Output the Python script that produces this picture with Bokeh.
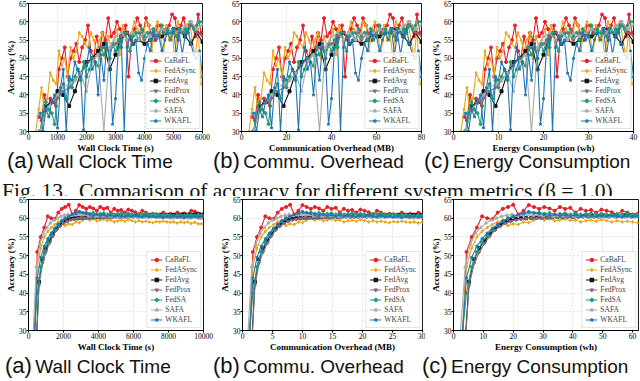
import numpy as np
from bokeh.plotting import figure
from bokeh.layouts import column, row
from bokeh.models import Div, Legend, LegendItem, FixedTicker, Range1d
from bokeh.embed import file_html
from bokeh.resources import INLINE

methods = ["CaBaFL", "FedASync", "FedAvg", "FedProx", "FedSA", "SAFA", "WKAFL"]
colors = ["#ee1c25", "#e8a817", "#111111", "#86668a", "#1f9e78", "#ababab", "#1f77b4"]
markers = ["circle", "diamond", "square", "inverted_triangle", "plus", "triangle", "star"]

# ---- top row: accuracy per round, wall-clock start / step (s)
cabafl_top = [34, 33, 40, 36, 39, 38, 37, 47, 50, 53, 45, 50, 52, 54, 49, 53, 55, 59, 52, 50, 56, 52, 57, 55, 61, 56, 57, 60,
              58, 56, 59, 45, 55, 58, 61, 59, 57, 61, 59, 56, 55, 59, 59, 57, 58, 59, 62, 61, 55, 59, 61, 57, 59, 59, 56, 62, 57]
fedasync_top = [30, 36, 42, 35, 39, 46, 44, 43, 52, 48, 50, 45, 53, 50, 52, 57, 56, 54, 53, 57, 55, 52, 55, 57, 50, 56, 53, 55, 58,
                51, 59, 56, 55, 57, 60, 58, 57, 55, 60, 59, 52, 58, 60, 56, 51, 59, 55, 57, 50, 60, 58, 56, 59, 60, 55, 50, 58, 43]
fedavg_top = [30, 37, 38, 41, 40, 37, 41, 46, 49, 50, 52, 54, 47, 51, 56, 57, 54, 55, 54, 55, 57, 56, 57, 58, 58, 56, 54, 57, 54.5]
fedprox_top = [30, 36, 38, 39, 41, 42, 44, 46, 48, 50, 51, 53, 52, 54, 56, 57, 56, 57, 55, 57, 56, 58, 57, 57, 58, 57, 60, 57, 56]
fedsa_top = [30, 35, 38, 36, 35, 32, 40, 41, 43, 39, 44, 42, 45, 47, 44, 49, 45, 47, 50, 49, 48, 53, 51, 53, 50, 54, 52, 55, 53,
             57, 55, 52, 56, 57, 55, 58, 56, 57, 55, 58, 57, 56, 59, 57, 58, 57, 58, 56, 58, 57, 58, 57, 59, 58, 59, 60, 60]
safa_top = [30, 36, 38, 40, 42, 43, 44, 46, 41, 49, 51, 30, 53, 56, 57, 55, 57, 55, 57, 56, 57, 58, 57, 58, 57, 59, 60, 58, 59]
wkafl_top = [35, 30, 36, 34, 38, 40, 31, 42, 47, 30, 45, 44, 49, 47, 45, 30.5, 48, 53, 47, 49, 40, 51, 44, 54, 50, 32, 39, 53, 55,
             30, 53, 56, 54, 55, 46, 44, 50, 54, 52, 57, 55, 56, 52, 55, 57, 55, 58, 51, 57, 51, 56, 58, 54, 51, 50, 52, 45]
top_start = [350, 250, 400, 400, 400, 400, 400]
top_step = [100, 100, 200, 200, 100, 200, 100]

# ---- bottom row (beta = 1.0)
cabafl_bot = [20, 51, 55, 57.5, 60.5, 60, 59.8, 61.5, 62.5, 63, 63.6, 61, 62, 63.5, 63, 62.5, 63, 62.6, 62, 63, 62.5, 62.8, 61.5,
              62.5, 62, 62.2, 61.5, 62.3, 62, 61.6, 61, 62, 61.5, 61, 61.2, 61, 61, 61.5, 61, 61.2, 61, 61.5, 61, 61.3, 61, 62,
              61.8, 61.3, 60.3]
fedasync_bot = [25, 47, 52, 55, 56.5, 57.5, 58.3, 59, 59.5, 58, 58.5, 58.3, 59, 58.8, 59.5, 60, 59.5, 59.8, 59.3, 59.5, 59.8, 59.4,
                59.5, 59, 59.3, 59.5, 59.2, 59.6, 59.4, 59, 59.3, 59, 59.2, 59, 58.8, 59.1, 59, 59.2, 59, 58.9, 59, 58.7, 59,
                58.8, 59, 58.6, 58.9, 58.5, 58.5]
fedavg_bot = [22, 43, 49, 52, 54, 55.8, 57.2, 58.2, 59, 59.5, 59.8, 60, 60, 60.1, 60.2, 60.2, 60.3, 60.3, 60.4, 60.4, 60.5, 60.4,
              60.5, 60.6, 60.5, 60.6, 60.5, 60.7, 60.6, 60.7, 60.6, 60.8, 60.7, 60.7, 60.8, 60.7, 60.9, 60.8, 60.8, 60.9, 60.8,
              60.9, 61, 60.9, 61, 60.9, 61, 61, 61]
fedprox_bot = [21, 42, 48, 51, 53.3, 55.2, 56.8, 57.8, 58.6, 59.1, 59.5, 59.7, 59.9, 60, 60, 60.1, 60.1, 60.2, 60.2, 60.2, 60.3,
               60.2, 60.3, 60.3, 60.4, 60.3, 60.4, 60.4, 60.3, 60.4, 60.5, 60.4, 60.5, 60.4, 60.5, 60.5, 60.4, 60.5, 60.5, 60.6,
               60.5, 60.6, 60.5, 60.6, 60.6, 60.5, 60.6, 60.6, 60.5]
fedsa_bot = [26, 40, 47, 51, 53.5, 55.5, 57, 58.3, 59.2, 60, 60.5, 60.8, 61, 61.5, 61.3, 61.5, 61.2, 61.4, 61, 61.2, 61.3, 61,
             61.2, 61, 61.1, 61.3, 61, 61.2, 61, 60.9, 61.1, 61, 61.2, 60.9, 61, 61.1, 60.8, 61, 60.9, 60.8, 60.6, 60.9, 60.8,
             60.7, 60.9, 60.8, 60.7, 60.9, 60.8]
safa_bot = [28, 47, 53, 56, 57.5, 58.7, 59.5, 60, 60.5, 60.8, 61, 60.7, 60.9, 61, 60.8, 60.9, 60.6, 60.8, 60.5, 60.7, 60.6, 60.8,
            60.5, 60.6, 60.4, 60.6, 60.5, 60.3, 60.5, 60.4, 60.2, 60.4, 60.3, 60.2, 60.4, 60.3, 60.2, 60.1, 60.3, 60.1, 60,
            60.2, 60.1, 60, 60.1, 60, 60.2, 60, 59.9]
wkafl_bot = [26, 44, 49.5, 52.5, 54.5, 56, 57.3, 58.3, 59.2, 60, 60.5, 61, 61.3, 61.8, 61.5, 61.2, 61, 60.8, 61, 60.7, 60.9, 60.6,
             60.8, 60.5, 60.7, 60.6, 60.4, 60.6, 60.5, 60.7, 60.5, 60.3, 60.6, 60.4, 60.5, 60.3, 60.5, 60.2, 60.4, 60.3, 60.5,
             60.3, 60.4, 60.2, 60.4, 60.3, 60.5, 60.3, 60.5]
bot_start = [300, 300, 400, 400, 300, 250, 300]
bot_step = [200, 200, 200, 200, 200, 200, 200]

top_series = [cabafl_top, fedasync_top, fedavg_top, fedprox_top, fedsa_top, safa_top, wkafl_top]
bot_series = [cabafl_bot, fedasync_bot, fedavg_bot, fedprox_bot, fedsa_bot, safa_bot, wkafl_bot]

# conversion of wall-clock seconds to the other system metrics
top_scale = [1.0, 1 / 75, 1 / 150]
bot_scale = [1.0, 1 / 290, 1 / 115]

xlabels = ["Wall Clock Time (s)", "Communication Overhead (MB)", "Energy Consumption (wh)"]
top_xmax = [6000, 80, 40]
top_xticks = [[0, 1000, 2000, 3000, 4000, 5000, 6000], [0, 20, 40, 60, 80], [0, 10, 20, 30, 40]]
bot_xmax = [10000, 30, 62]
bot_xticks = [[0, 2000, 4000, 6000, 8000, 10000], [0, 5, 10, 15, 20, 25, 30], [0, 10, 20, 30, 40, 50, 60]]
yticks = [30, 35, 40, 45, 50, 55, 60, 65]

SERIF = "Liberation Serif"


def panel(k, series, starts, steps, scale, xmax, xticks, fw, fh, left, right):
    p = figure(frame_width=fw, frame_height=fh, x_range=Range1d(0, xmax), y_range=Range1d(30, 65),
               output_backend="svg", toolbar_location=None,
               min_border_left=left, min_border_right=right, min_border_top=3, min_border_bottom=30)
    p.outline_line_color = "black"
    p.outline_line_width = 0.9
    p.background_fill_color = "white"
    for ax in (p.xaxis[0], p.yaxis[0]):
        ax.major_label_text_font = SERIF
        ax.major_label_text_font_size = "7.5px"
        ax.major_label_text_color = "black"
        ax.axis_label_text_font = SERIF
        ax.axis_label_text_font_style = "bold"
        ax.axis_label_text_font_size = "9px"
        ax.axis_label_text_color = "black"
        ax.major_tick_out = 2
        ax.major_tick_in = 0
        ax.minor_tick_line_color = None
        ax.major_label_standoff = 0
        ax.axis_label_standoff = 0
        ax.axis_line_color = "black"
    p.xaxis.ticker = FixedTicker(ticks=xticks)
    p.yaxis.ticker = FixedTicker(ticks=yticks)
    p.xaxis.axis_label = xlabels[k]
    p.yaxis.axis_label = "Accuracy (%)"
    p.grid.grid_line_color = "#d6d6d6"
    p.grid.grid_line_dash = "2 2"
    p.grid.grid_line_width = 0.7
    items = []
    for i, name in enumerate(methods):
        acc = series[i]
        x = (starts[i] + steps[i] * np.arange(len(acc))) * scale
        l = p.line(x, acc, line_color=colors[i], line_width=1.1)
        s = p.scatter(x, acc, marker=markers[i], size=3, line_color=colors[i], fill_color=colors[i])
        items.append(LegendItem(label=name, renderers=[l, s]))
    lg = Legend(items=items, location="bottom_right", label_text_font=SERIF, label_text_font_size="7.5px",
                label_height=9, glyph_height=9, glyph_width=12, spacing=1, padding=3, margin=2,
                label_standoff=3, border_line_color="#cccccc", border_line_width=0.8,
                background_fill_alpha=0.85)
    p.add_layout(lg)
    return p


top_dims = [(174, 28, 11), (180, 28, 4), (180, 28, 7)]
bot_dims = [(175, 28, 10), (180, 29, 3), (185, 28, 2)]

top_figs = [panel(k, top_series, top_start, top_step, top_scale[k], top_xmax[k], top_xticks[k],
                  top_dims[k][0], 128, top_dims[k][1], top_dims[k][2]) for k in range(3)]
bot_figs = [panel(k, bot_series, bot_start, bot_step, bot_scale[k], bot_xmax[k], bot_xticks[k],
                  bot_dims[k][0], 131, bot_dims[k][1], bot_dims[k][2]) for k in range(3)]

sub_names = ["Wall Clock Time", "Commu. Overhead", "Energy Consumption"]
sub_letters = ["(a)", "(b)", "(c)"]


def caption_html(lefts, top):
    spans = ""
    for i in range(3):
        spans += ('<span style="position:absolute;left:%dpx;top:%dpx;white-space:nowrap;line-height:22px;">'
                  '<span style="font-size:22px;">%s</span> <span style="font-size:19px;">%s</span></span>'
                  % (lefts[i], top, sub_letters[i], sub_names[i]))
    return ('<div style="position:relative;width:640px;height:1px;font-family:\'Liberation Sans\';color:#111;">'
            + spans + '</div>')


cap_top = Div(text=caption_html([7, 213, 424], -22), width=640, height=20, margin=0)
fig_cap = Div(text='<div style="font-family:\'Liberation Serif\';font-size:21.5px;line-height:21.5px;white-space:pre;'
                   'color:#111;padding-left:2px;">Fig. 13.  Comparison of accuracy for different system metrics (β = 1.0)</div>',
              width=640, height=15, margin=0, styles={"overflow": "hidden"})
cap_bot = Div(text=caption_html([5, 213, 422], -16), width=640, height=21, margin=0)

layout = column(row(*top_figs, margin=0), cap_top, fig_cap, row(*bot_figs, margin=0), cap_bot, margin=0)

open("out.html", "w").write(file_html(layout, INLINE))
